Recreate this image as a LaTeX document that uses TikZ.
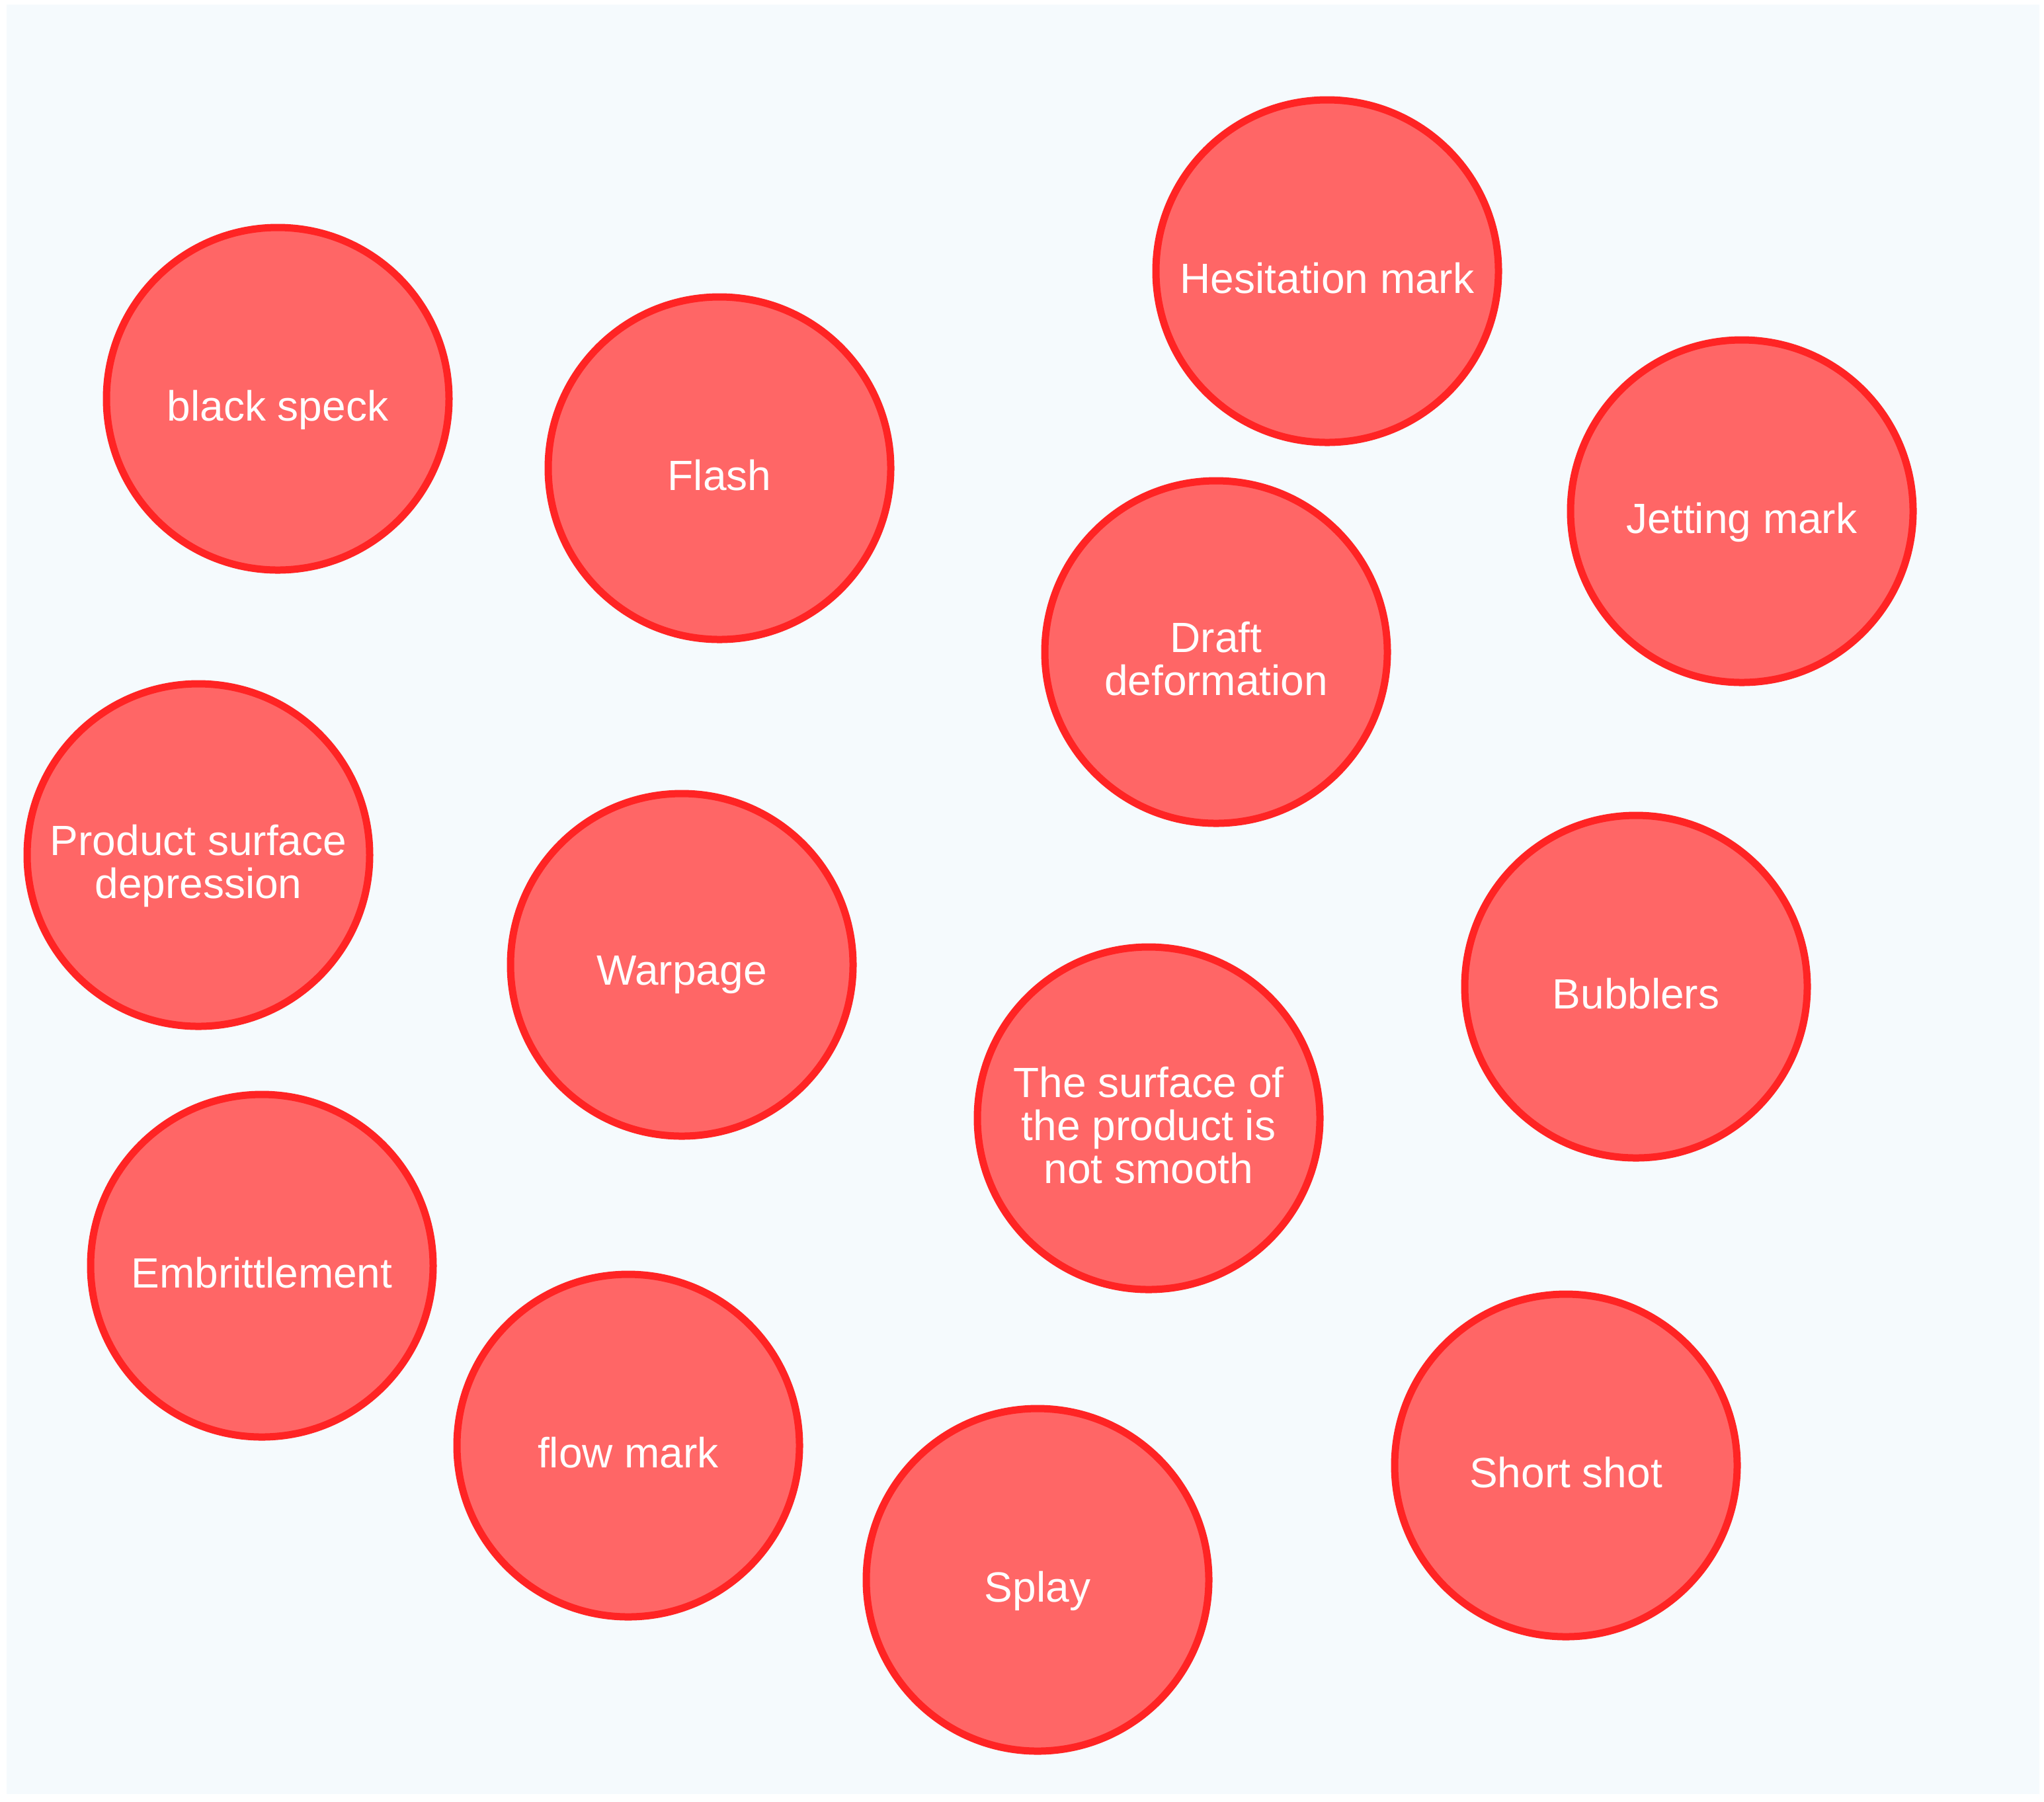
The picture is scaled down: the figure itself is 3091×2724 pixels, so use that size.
\documentclass[tikz,border=0pt]{standalone}
\usepackage{fontspec}
\setmainfont{Liberation Sans}
\definecolor{bgc}{HTML}{F5FAFD}
\definecolor{fillc}{HTML}{FF6666}
\definecolor{edgec}{HTML}{FF2424}
\begin{document}
\begin{tikzpicture}[x=0.25pt,y=-0.25pt,
  bubble/.style={circle, draw=edgec, fill=fillc, line width=2.75pt, minimum size=129.5pt, inner sep=0pt},
  lbl/.style={text=white, font=\fontsize{16pt}{16.25pt}\selectfont, align=center, anchor=north, inner sep=0pt},
  one/.style={yshift=3.5pt},
  two/.style={yshift=11.6pt},
  three/.style={yshift=19.75pt}]
\useasboundingbox (0,0) rectangle (3091,2724);
\fill[white] (0,0) rectangle (3091,2724);
\fill[bgc] (10,7) rectangle (3084,2713);

\node[bubble] (bs) at (420,603) {};
\node[bubble] (fl) at (1088,708) {};
\node[bubble] (hm) at (2007,410) {};
\node[bubble] (jm) at (2634,773) {};
\node[bubble] (dd) at (1839,986) {};
\node[bubble] (ps) at (300,1293) {};
\node[bubble] (wp) at (1031,1459) {};
\node[bubble] (sn) at (1737,1691) {};
\node[bubble] (bb) at (2474,1492) {};
\node[bubble] (em) at (396,1914) {};
\node[bubble] (fm) at (950,2186) {};
\node[bubble] (sp) at (1569,2389) {};
\node[bubble] (ss) at (2368,2216) {};

\node[lbl,one] (bs-t) at (bs) {black speck};
\node[lbl,one] (fl-t) at (fl) {Flash};
\node[lbl,one] (hm-t) at (hm) {Hesitation mark};
\node[lbl,one] (jm-t) at (jm) {Jetting mark};
\node[lbl,two] (dd-t) at (dd) {Draft\\deformation};
\node[lbl,two] (ps-t) at (ps) {Product surface\\depression};
\node[lbl,one] (wp-t) at (wp) {Warpage};
\node[lbl,three] (sn-t) at (sn) {The surface of\\the product is\\not smooth};
\node[lbl,one] (bb-t) at (bb) {Bubblers};
\node[lbl,one] (em-t) at (em) {Embrittlement};
\node[lbl,one] (fm-t) at (fm) {flow mark};
\node[lbl,one] (sp-t) at (sp) {Splay};
\node[lbl,one] (ss-t) at (ss) {Short shot};
\end{tikzpicture}
\end{document}
